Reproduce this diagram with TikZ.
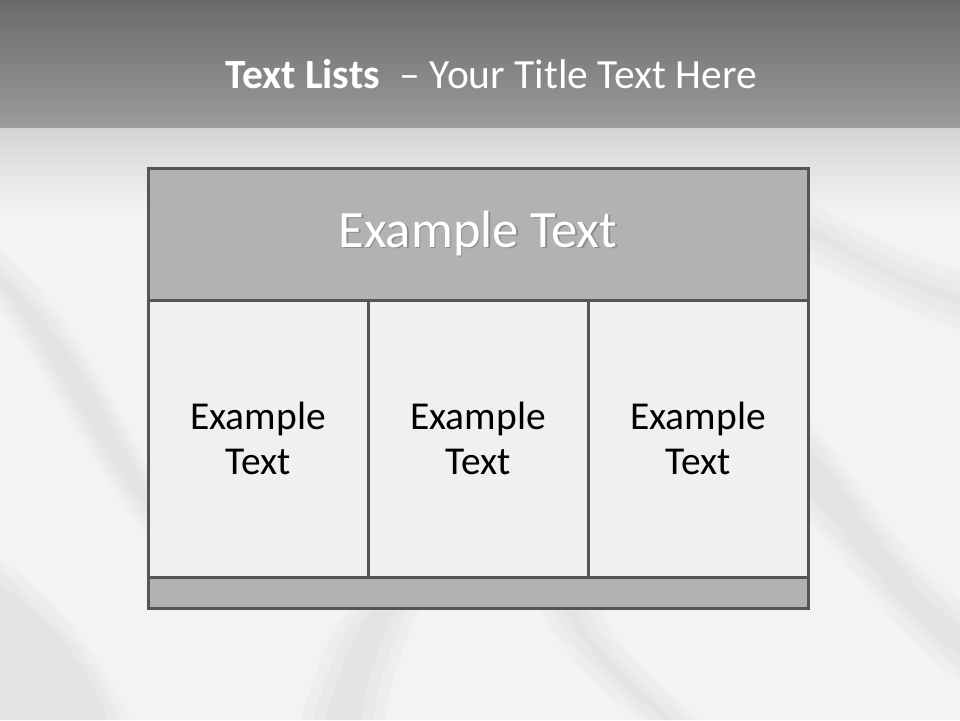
\documentclass[tikz,border=0pt]{standalone}
\usepackage{fontspec}
\setmainfont{Carlito}
\usetikzlibrary{positioning}
\definecolor{bandtop}{HTML}{6A6A6A}
\definecolor{bandbot}{HTML}{9B9B9B}
\definecolor{headgray}{HTML}{B2B2B2}
\definecolor{colgray}{HTML}{F0F0F0}
\definecolor{framegray}{HTML}{555555}
\definecolor{silk}{HTML}{F3F3F3}
\newcommand{\shadowtext}[1]{\rlap{\hspace{1.5pt}\raisebox{-1.5pt}{\color{black!45}#1}}#1}
\tikzset{
	frame/.style={draw=framegray, line width=3pt, outer sep=0pt, inner sep=0pt},
	headbox/.style={frame, fill=headgray, minimum width=660pt, minimum height=132pt, text=white, font=\fontsize{52.5}{60}\selectfont},
	colbox/.style={frame, fill=colgray, minimum width=220pt, minimum height=277pt, align=center, font=\fontsize{39.5}{45}\selectfont},
	footbox/.style={frame, fill=headgray, minimum width=660pt, minimum height=31pt},
	fold/.style={fill=black, opacity=0.018}
}
\begin{document}
\begin{tikzpicture}[x=1pt, y=-1pt]
		\useasboundingbox (0,0) rectangle (960,720);

		\fill[silk] (0,0) rectangle (960,720);
		\shade[top color=black!17, bottom color=silk] (0,127) rectangle (960,210);
		\foreach \w in {0,12,24} {
			\fill[fold] (0,250+\w) .. controls (80,320+\w) and (120,420+\w) .. (150,470+\w) -- (150,540-\w) .. controls (90,460-\w) and (40,360-\w) .. (0,310-\w) -- cycle;
			\fill[fold] (300+\w,720) .. controls (320+\w,660) and (330+\w,630) .. (350+\w,608) -- (420-\w,608) .. controls (400-\w,650) and (390-\w,690) .. (385-\w,720) -- cycle;
			\fill[fold] (808,420+\w) .. controls (860,480+\w) and (900,560+\w) .. (960,600+\w) -- (960,680-\w) .. controls (900,640-\w) and (850,560-\w) .. (808,520-\w) -- cycle;
			\fill[fold] (0,560+\w) .. controls (60,600+\w) and (100,660+\w) .. (130-\w,720) -- (0,720) -- cycle;
			\fill[fold] (540+\w,608) .. controls (560+\w,650) and (600+\w,690) .. (640+\w,720) -- (700-\w,720) .. controls (650-\w,680) and (610-\w,640) .. (600-\w,608) -- cycle;
			\fill[fold] (808,200+\w) .. controls (860,230+\w) and (910,260+\w) .. (960,270+\w) -- (960,330-\w) .. controls (900,310-\w) and (850,280-\w) .. (808,260-\w) -- cycle;
		}
		\shade[top color=bandtop, bottom color=bandbot] (0,0) rectangle (960,127);

		\node[text=white, font=\fontsize{41.5}{50}\selectfont] (title) at (491,74) {\textbf{Text Lists}\hspace{0.48em}– Your Title Text Here};

		\node[headbox] (head) at (478,234) {\shadowtext{Example Text}};
		\node[colbox, below right=0pt and 0pt of head.south west] (colA) {Example\\Text};
		\node[colbox, right=0pt of colA] (colB) {Example\\Text};
		\node[colbox, right=0pt of colB] (colC) {Example\\Text};
		\node[footbox, below right=0pt and 0pt of colA.south west] (foot) {};
	\end{tikzpicture}
\end{document}
